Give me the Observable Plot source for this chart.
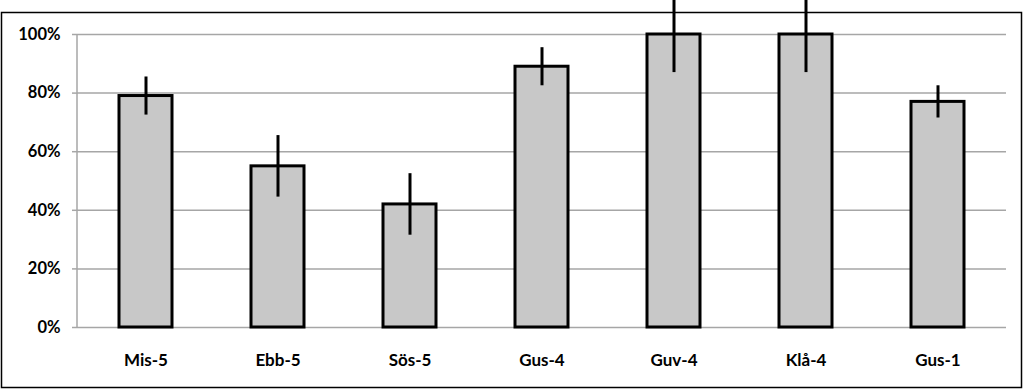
<!DOCTYPE html>
<html>
<head>
<meta charset="utf-8">
<script src="https://cdn.jsdelivr.net/npm/d3@7"></script>
<script src="https://cdn.jsdelivr.net/npm/@observablehq/plot@0.6"></script>
<style>
  html, body { margin: 0; padding: 0; background: #fff; }
  #chart svg { display: block; }
</style>
</head>
<body>
<div id="chart"></div>
<script>
const categories = ["Mis-5", "Ebb-5", "Sös-5", "Gus-4", "Guv-4", "Klå-4", "Gus-1"];
const values     = [0.79, 0.55, 0.42, 0.89, 1.00, 1.00, 0.77];
const errors     = [0.065, 0.105, 0.105, 0.065, 0.13, 0.13, 0.055];
const yTicks     = [0, 0.2, 0.4, 0.6, 0.8, 1.0];

const data = categories.map((c, i) => ({cat: c, v: values[i], lo: values[i] - errors[i], hi: values[i] + errors[i]}));

const W = 1024, H = 390;
const plot = Plot.plot({
  width: W,
  height: H,
  marginLeft: 77,
  marginRight: 18,
  marginTop: 34,
  marginBottom: 63,
  style: {fontFamily: "Lato, 'Open Sans', sans-serif", fontWeight: "bold", fontSize: "16px", color: "#000", background: "#fff", overflow: "visible"},
  x: {domain: categories, label: null, paddingInner: 0.6, paddingOuter: 0.3, align: 0.5},
  y: {domain: [0, 1], label: null},
  marks: [
    Plot.gridY(yTicks, {stroke: "#a6a6a6", strokeOpacity: 1, strokeWidth: 1.5}),
    Plot.axisY({ticks: yTicks, tickFormat: d3.format(".0%"), tickSize: 5, tickPadding: 12, stroke: "#a6a6a6", strokeWidth: 1.5, label: null, fontSize: 16.5, fontWeight: "bold"}),
    Plot.barY(data, {x: "cat", y: "v", fill: "#c8c8c8", stroke: "#000", strokeWidth: 3}),
    Plot.ruleX(data, {x: "cat", y1: "lo", y2: "hi", stroke: "#000", strokeWidth: 3}),
    Plot.axisX({tickSize: 0, tickPadding: 26, label: null, fontSize: 17, fontWeight: "bold"})
  ]
});

const svg = d3.select(plot);
// y axis line
svg.append("line")
  .attr("x1", 77).attr("x2", 77).attr("y1", 34).attr("y2", 327)
  .attr("stroke", "#a6a6a6").attr("stroke-width", 1.5);
// outer chart border
svg.append("rect")
  .attr("x", 1.5).attr("y", 12.5).attr("width", 1020).attr("height", 375)
  .attr("fill", "none").attr("stroke", "#000").attr("stroke-width", 1.5);

document.getElementById("chart").appendChild(plot);
</script>
</body>
</html>
